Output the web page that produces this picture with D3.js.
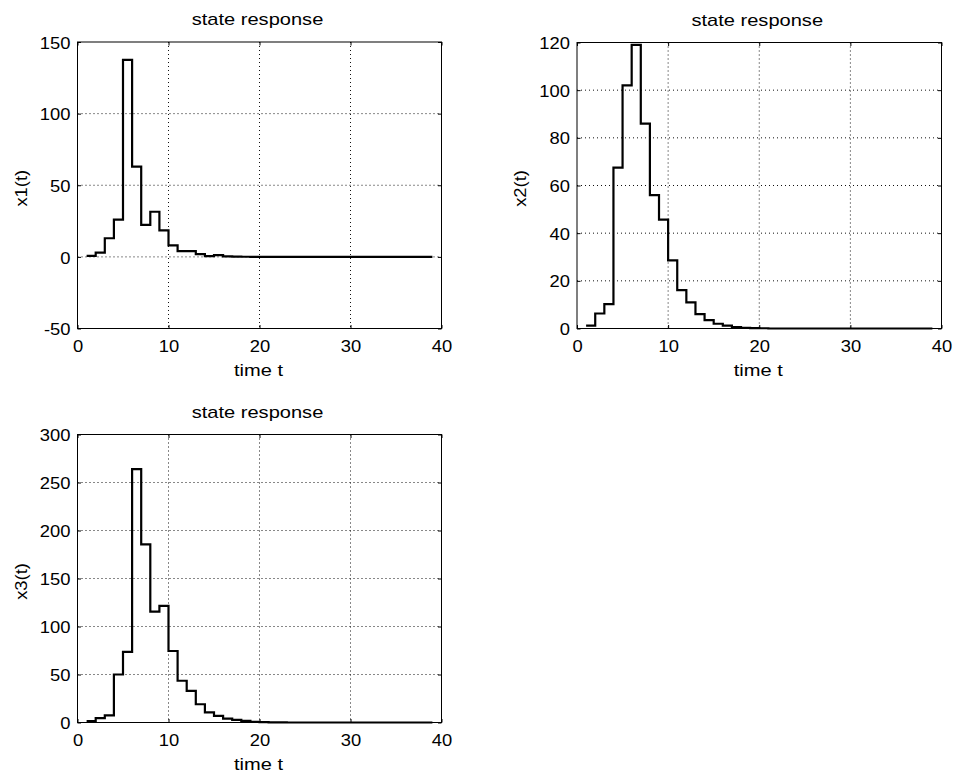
<!DOCTYPE html>
<html>
<head>
<meta charset="utf-8">
<script src="https://cdn.jsdelivr.net/npm/d3@7"></script>
<style>
  html, body { margin: 0; padding: 0; background: #fff; }
  svg text { font-family: "Liberation Sans", Arial, Helvetica, sans-serif; fill: #000; }
</style>
</head>
<body>
<svg id="chart" width="955" height="776"></svg>
<script>
// ---- data ----
const time = [1,2,3,4,5,6,7,8,9,10,11,12,13,14,15,16,17,18,19,20,21,22,23,24,25,26,27,28,29,30,31,32,33,34,35,36,37,38,39];

const x1Values = [0.7, 3, 13, 26, 137.5, 63, 22.4, 31.5, 18.5, 8, 4, 4, 1.9, 0.5, 1.2, 0.4, 0.2, 0.1,
  0, 0, 0, 0, 0, 0, 0, 0, 0, 0, 0, 0, 0, 0, 0, 0, 0, 0, 0, 0, 0];
const x2Values = [1.2, 6.3, 10.2, 67.5, 102, 119, 86, 56, 45.7, 28.6, 16.1, 11, 6, 3.5, 2, 1.2, 0.6, 0.3,
  0.15, 0.1, 0, 0, 0, 0, 0, 0, 0, 0, 0, 0, 0, 0, 0, 0, 0, 0, 0, 0, 0];
const x3Values = [1.5, 4.5, 7.5, 50, 73.5, 264, 185.5, 115.5, 121.5, 74.5, 43.5, 33, 19, 10.5, 7, 4, 2.7, 1.6,
  0.8, 0.4, 0.2, 0.1, 0, 0, 0, 0, 0, 0, 0, 0, 0, 0, 0, 0, 0, 0, 0, 0, 0];

const xTicks = [0, 10, 20, 30, 40];
const y1Ticks = [-50, 0, 50, 100, 150];
const y2Ticks = [0, 20, 40, 60, 80, 100, 120];
const y3Ticks = [0, 50, 100, 150, 200, 250, 300];

const titles = ["state response", "state response", "state response"];
const yLabels = ["x1(t)", "x2(t)", "x3(t)"];
const xLabel = "time t";

// ---- layout ----
const panels = [
  { values: x1Values, yTicks: y1Ticks, yDomain: [-50, 150], title: titles[0], yLabel: yLabels[0],
    left: 77.5, right: 441.5, top: 42, bottom: 328.5 },
  { values: x2Values, yTicks: y2Ticks, yDomain: [0, 120], title: titles[1], yLabel: yLabels[1],
    left: 577, right: 941.5, top: 42.5, bottom: 328.5 },
  { values: x3Values, yTicks: y3Ticks, yDomain: [0, 300], title: titles[2], yLabel: yLabels[2],
    left: 77.5, right: 441.5, top: 434.5, bottom: 722.5 }
];

const svg = d3.select("#chart");
const FS = 17;

function stretch(sel, factor) {
  sel.each(function () {
    const len = this.getComputedTextLength();
    if (len > 0) {
      d3.select(this).attr("textLength", len * factor).attr("lengthAdjust", "spacingAndGlyphs");
    }
  });
}

panels.forEach(p => {
  const x = d3.scaleLinear().domain([0, 40]).range([p.left, p.right]);
  const y = d3.scaleLinear().domain(p.yDomain).range([p.bottom, p.top]);
  const g = svg.append("g");
  const w = p.right - p.left, h = p.bottom - p.top;

  // grid
  const grid = g.append("g").attr("stroke", "#111").attr("stroke-width", 1)
    .attr("stroke-dasharray", "1,3");
  xTicks.filter(t => t > 0 && t < 40).forEach(t => {
    grid.append("line").attr("x1", x(t)).attr("x2", x(t)).attr("y1", p.top).attr("y2", p.bottom);
  });
  p.yTicks.filter(t => t > p.yDomain[0] && t < p.yDomain[1]).forEach(t => {
    grid.append("line").attr("x1", p.left).attr("x2", p.right).attr("y1", y(t)).attr("y2", y(t));
  });

  // axes (ticks inward)
  const tl = 3.5;
  const fmt = d => String(d);
  const ax = g.append("g").attr("transform", `translate(0,${p.bottom})`)
    .call(d3.axisBottom(x).tickValues(xTicks).tickSize(-tl).tickPadding(8).tickFormat(fmt));
  const axTop = g.append("g").attr("transform", `translate(0,${p.top})`)
    .call(d3.axisTop(x).tickValues(xTicks).tickSize(-tl).tickFormat(""));
  const ay = g.append("g").attr("transform", `translate(${p.left},0)`)
    .call(d3.axisLeft(y).tickValues(p.yTicks).tickSize(-tl).tickPadding(8).tickFormat(fmt));
  const ayR = g.append("g").attr("transform", `translate(${p.right},0)`)
    .call(d3.axisRight(y).tickValues(p.yTicks).tickSize(-tl).tickFormat(""));
  [ax, axTop, ay, ayR].forEach(a => {
    a.select(".domain").remove();
    a.selectAll("line").attr("stroke", "#000");
    a.selectAll("text").attr("font-size", FS).attr("font-family", "Liberation Sans, Arial, sans-serif");
  });
  ax.selectAll("text").attr("dy", null).attr("y", 23);
  ay.selectAll("text").attr("x", -7).attr("dy", "0.36em");
  stretch(ax.selectAll("text"), 1.08);
  stretch(ay.selectAll("text"), 1.08);

  // box
  g.append("rect").attr("x", p.left).attr("y", p.top).attr("width", w).attr("height", h)
    .attr("fill", "none").attr("stroke", "#000").attr("stroke-width", 1);

  // stairs
  const line = d3.line().x((d, i) => x(time[i])).y(d => y(d)).curve(d3.curveStepAfter);
  g.append("path").datum(p.values).attr("d", line)
    .attr("fill", "none").attr("stroke", "#000").attr("stroke-width", 2.2);

  // labels
  const cx = (p.left + p.right) / 2;
  const t1 = g.append("text").attr("x", cx - 2).attr("y", p.top - 17).attr("text-anchor", "middle")
    .attr("font-size", FS).text(p.title);
  const t2 = g.append("text").attr("x", cx - 1).attr("y", p.bottom + 47).attr("text-anchor", "middle")
    .attr("font-size", FS).text(xLabel);
  const t3 = g.append("text").attr("transform", `translate(${p.left - 51},${(p.top + p.bottom) / 2 + 3}) rotate(-90)`)
    .attr("text-anchor", "middle").attr("font-size", FS).text(p.yLabel);
  stretch(t1, 1.18);
  stretch(t2, 1.18);
  stretch(t3, 1.08);
});
</script>
</body>
</html>
